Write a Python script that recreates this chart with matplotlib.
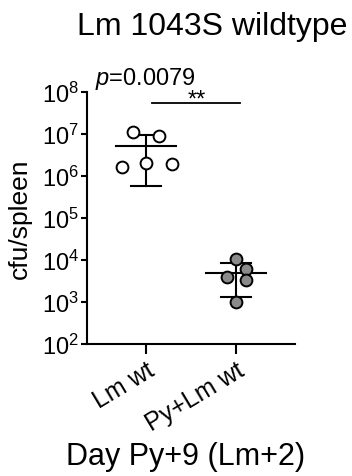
import numpy as np
import matplotlib
matplotlib.use("Agg")
import matplotlib.pyplot as plt
from matplotlib.ticker import FixedLocator, FuncFormatter, NullLocator

plt.rcParams['font.family'] = ['Liberation Sans', 'DejaVu Sans']
plt.rcParams['mathtext.fontset'] = 'custom'
plt.rcParams['mathtext.rm'] = 'Liberation Sans'
plt.rcParams['mathtext.it'] = 'Liberation Sans:italic'

groups = ["Lm wt", "Py+Lm wt"]
lm_wt = [1.1e7, 9.0e6, 1.6e6, 2.0e6, 1.9e6]
py_lm_wt = [1.07e4, 6.0e3, 4.0e3, 3.3e3, 1.0e3]
# horizontal scatter of the dots within each column
jitter_lm = [-0.14, 0.14, -0.27, 0.0, 0.29]
jitter_py = [0.0, 0.11, -0.10, 0.11, 0.0]
p_value = "0.0079"
stars = "**"

fig = plt.figure(figsize=(3.52, 4.77), dpi=100)
ax = fig.add_axes([0.247, 0.2767, 0.591, 0.5283])

data = [lm_wt, py_lm_wt]
jit = [jitter_lm, jitter_py]
faces = ["white", "#8a8a8a"]
for i, vals in enumerate(data):
    vals = np.array(vals)
    m = vals.mean()
    sd = vals.std(ddof=1)
    ax.plot([i - 0.33, i + 0.33], [m, m], color="black", lw=1.5, zorder=2)
    ax.plot([i, i], [m - sd, m + sd], color="black", lw=1.5, zorder=2)
    for y in (m - sd, m + sd):
        ax.plot([i - 0.167, i + 0.167], [y, y], color="black", lw=1.5, zorder=2)
    ax.plot(i + np.array(jit[i]), vals, "o", ms=8.5, mfc=faces[i], mec="black",
            mew=1.4, zorder=3, clip_on=False)

ax.set_yscale("log")
ax.set_ylim(1e2, 1e8)
ax.set_xlim(-0.656, 1.656)
ax.yaxis.set_major_locator(FixedLocator([10.0 ** k for k in range(2, 9)]))
ax.yaxis.set_minor_locator(NullLocator())
ax.yaxis.set_major_formatter(FuncFormatter(lambda v, pos: r"$\mathregular{10^{%d}}$" % round(np.log10(v))))
ax.set_xticks([0, 1])
ax.set_xticklabels(groups, rotation=31, ha="right", va="top", rotation_mode="anchor")

for s in ["top", "right"]:
    ax.spines[s].set_visible(False)
for s in ["left", "bottom"]:
    ax.spines[s].set_linewidth(1.5)
ax.tick_params(axis="y", length=4.5, width=1.5, pad=1, labelsize=17)
ax.tick_params(axis="x", length=7, width=1.5, pad=3, labelsize=18)

ax.set_ylabel("cfu/spleen", fontsize=19)
ax.yaxis.set_label_coords(-0.265, 0.5)

# significance bar
ax.plot([0.07, 1.04], [5.6e7, 5.6e7], color="black", lw=1.3, clip_on=False)
ax.text(0.565, 6.7e7, stars, ha="center", va="center", fontsize=17, clip_on=False)
fig.text(0.27, 1 - 85 / 477, r"$\mathit{p}$=" + p_value, fontsize=17, va="baseline")

fig.text(0.602, 1 - 35 / 477, "Lm 1043S wildtype", fontsize=23, ha="center", va="baseline")
fig.text(0.526, 1 - 465 / 477, "Day Py+9 (Lm+2)", fontsize=22, ha="center", va="baseline")

fig.savefig("out.png", dpi=100)
